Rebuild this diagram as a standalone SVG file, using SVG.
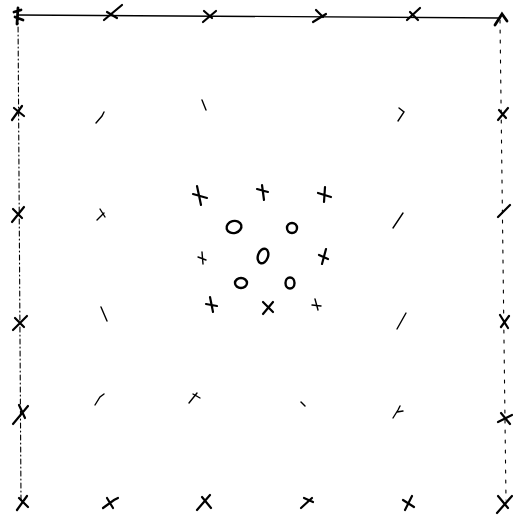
<svg xmlns="http://www.w3.org/2000/svg" width="513" height="517" viewBox="0 0 513 517">
<style>
.b{fill:none;stroke:#000;stroke-linecap:round}
.x{stroke-width:2.2}
.s{stroke-width:1.4}
.o{fill:none;stroke:#000;stroke-width:2.4}
</style>
<rect width="513" height="517" fill="#fff"/>
<g id="border">
<path class="b" d="M18 15 L500 18" stroke-width="1.3"/>
<path class="b" d="M18 15 L21 500" stroke-width="1.1" stroke-dasharray="5 3 1 3"/>
<path class="b" d="M500 20 L506 500" stroke-width="1.1" stroke-dasharray="3 7"/>
</g>
<g id="marks-top" class="b x">
<path d="M14 12 L21 10 M18 8 L17 24 M15 17 L23 20" stroke-width="2.8"/>
<path d="M104 20 L122 5 M107 12 L117 18"/>
<path d="M203 22 L216 11 M204 11 L212 18"/>
<path d="M313 22 L326 14 M316 10 L323 17"/>
<path d="M407 20 L420 8 M410 12 L418 20"/>
<path d="M495 25 L502 14 L507 21" stroke-width="2.8"/>
</g>
<g id="marks-row2" class="b">
<path class="x" d="M12 120 L22 106 M14 108 L24 116"/>
<path class="s" d="M96 123 L102 116 L104 112"/>
<path class="s" d="M202 100 L206 110"/>
<path class="s" d="M398 121 L404 112 L399 108"/>
<path class="x" d="M498 120 L508 108 M499 110 L506 118"/>
</g>
<g id="marks-row3" class="b">
<path class="x" d="M12 222 L24 207 M13 209 L22 218"/>
<path class="s" d="M97 220 L104 213 M100 209 L105 217"/>
<path class="s" d="M393 228 L403 213"/>
<path class="x" d="M498 217 L510 205"/>
</g>
<g id="cluster" class="b">
<path class="x" d="M197 186 L201 205 M193 194 L207 198"/>
<path class="x" d="M262 185 L264 200 M257 189 L268 192"/>
<path class="x" d="M325 187 L324 202 M318 193 L331 197"/>
<ellipse class="o" cx="234" cy="227" rx="7.5" ry="6" transform="rotate(-15 234 227)"/>
<ellipse class="o" cx="292" cy="228" rx="5" ry="5"/>
<path class="s" d="M202 252 L203 264 M198 257 L206 260"/>
<ellipse class="o" cx="263" cy="256" rx="5" ry="7.5" transform="rotate(20 263 256)"/>
<path class="x" d="M326 249 L322 264 M319 255 L328 259"/>
<ellipse class="o" cx="241" cy="283" rx="6" ry="5"/>
<ellipse class="o" cx="290" cy="283" rx="4.5" ry="5.5"/>
<path class="x" d="M210 297 L213 312 M206 304 L217 306"/>
<path class="x" d="M263 314 L273 302 M263 302 L273 312"/>
<path class="s" d="M315 299 L318 310 M312 305 L321 306"/>
</g>
<g id="marks-row4" class="b">
<path class="x" d="M13 330 L27 316 M15 318 L24 327"/>
<path class="s" d="M101 307 L107 321"/>
<path class="s" d="M397 329 L406 313"/>
<path class="x" d="M500 315 L508 328 M501 327 L509 316"/>
</g>
<g id="marks-row5" class="b">
<path class="x" d="M13 424 L28 406 M19 405 L25 418"/>
<path class="s" d="M95 405 L100 397 L104 394"/>
<path class="s" d="M189 403 L197 393 M193 394 L200 398"/>
<path class="s" d="M301 402 L305 406"/>
<path class="s" d="M393 418 L398 410 L400 406 M397 412 L403 411"/>
<path class="x" d="M498 422 L512 415 M501 413 L510 424"/>
</g>
<g id="marks-bottom" class="b">
<path class="x" d="M17 510 L27 496 M19 498 L28 507"/>
<path class="x" d="M103 508 L114 500 L118 498 M107 498 L113 508"/>
<path class="x" d="M197 510 L210 495 M202 497 L211 508"/>
<path class="x" d="M301 508 L312 498 M304 498 L313 502"/>
<path class="x" d="M405 510 L412 496 M403 500 L414 507"/>
<path class="x" d="M497 513 L512 496 M498 496 L508 508"/>
</g>
</svg>
